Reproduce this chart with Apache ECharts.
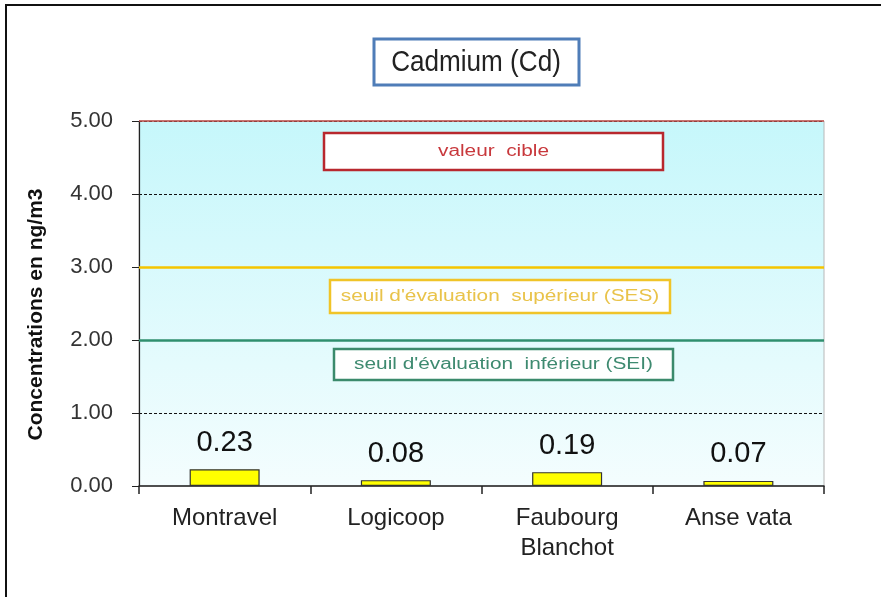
<!DOCTYPE html>
<html>
<head>
<meta charset="utf-8">
<script src="https://cdn.jsdelivr.net/npm/echarts@6/dist/echarts.min.js"></script>
<style>
  html, body { margin: 0; padding: 0; background: #fff; }
  #main { width: 881px; height: 597px; }
</style>
</head>
<body>
<div id="main"></div>
<script>
// données
const sites = ['Montravel', 'Logicoop', 'Faubourg\nBlanchot', 'Anse vata'];
const cadmium = [0.23, 0.08, 0.19, 0.07];
const valeurCible = 5;
const seuilSup = 3;
const seuilInf = 2;

const chart = echarts.init(document.getElementById('main'));

// petit helper pour les cadres de texte (annotations)
function boite(x, y, w, h, texte, trait, couleur) {
  return {
    type: 'group', z: 100,
    children: [
      { type: 'rect', shape: { x: x, y: y, width: w, height: h },
        style: { fill: '#fff', stroke: trait, lineWidth: 2.5 } },
      { type: 'text', x: x + w / 2, y: y + h / 2, scaleX: 1.3,
        style: { text: texte, fill: couleur, font: '16px "Liberation Sans"',
          textAlign: 'center', textVerticalAlign: 'middle' } }
    ]
  };
}

const option = {
  backgroundColor: '#fff',
  grid: {
    left: 139, right: 57, top: 121, bottom: 111,
    show: true, borderColor: '#b8b8b8', borderWidth: 1,
    backgroundColor: new echarts.graphic.LinearGradient(0, 0, 0, 1, [
      { offset: 0, color: '#c6f7fb' },
      { offset: 1, color: '#f4fdfe' }
    ])
  },
  xAxis: {
    type: 'category',
    data: sites,
    axisLine: { lineStyle: { color: '#222', width: 1.5 } },
    axisTick: { show: true, length: 8, lineStyle: { color: '#222', width: 1.5 } },
    axisLabel: { color: '#222', fontSize: 24, fontFamily: 'Liberation Sans', margin: 17, lineHeight: 30 }
  },
  yAxis: {
    type: 'value',
    min: 0, max: 5, interval: 1,
    name: 'Concentrations en ng/m3',
    nameLocation: 'middle',
    nameGap: 92,
    nameTextStyle: { color: '#111', fontSize: 21, fontWeight: 'bold', fontFamily: 'Liberation Sans', padding: [0, 22, 0, 0] },
    axisLine: { show: true, lineStyle: { color: '#222', width: 1.2 } },
    axisTick: { show: true, length: 7, lineStyle: { color: '#222' } },
    axisLabel: {
      color: '#333', fontSize: 22, fontFamily: 'Liberation Sans', margin: 26,
      formatter: v => v.toFixed(2)
    },
    splitLine: { show: true, showMinLine: false, lineStyle: { color: '#111', type: [3, 2], width: 1 } }
  },
  series: [{
    type: 'bar',
    data: cadmium,
    barWidth: 70,
    itemStyle: { color: '#ffff00', borderColor: '#333', borderWidth: 1.2 },
    label: {
      show: true, position: 'top', distance: 12,
      color: '#111', fontSize: 29, fontFamily: 'Liberation Sans',
      formatter: p => p.value.toFixed(2)
    },
    z: 5,
    markLine: {
      silent: true,
      symbol: 'none',
      label: { show: false },
      data: [
        { yAxis: valeurCible, lineStyle: { color: '#c0504d', width: 1.5, type: 'solid' } },
        { yAxis: seuilSup, lineStyle: { color: '#f5c400', width: 2.5, type: 'solid' } },
        { yAxis: seuilInf, lineStyle: { color: '#2f8f6e', width: 2.5, type: 'solid' } }
      ]
    }
  }],
  graphic: [
    { type: 'rect', shape: { x: 6, y: 5, width: 900, height: 700 },
      style: { fill: 'none', stroke: '#111', lineWidth: 2 }, z: 100, silent: true },
    { type: 'rect', shape: { x: 374, y: 39, width: 205, height: 46 },
      style: { fill: '#fff', stroke: '#4f7db8', lineWidth: 3 }, z: 100 },
    { type: 'text', x: 476, y: 63, z: 101, scaleX: 0.9,
      style: { text: 'Cadmium (Cd)', fill: '#222', font: '29px "Liberation Sans Narrow", "Liberation Sans", sans-serif',
        textAlign: 'center', textVerticalAlign: 'middle' } },
    boite(324, 133, 339, 37, 'valeur  cible', '#b8282e', '#c8383c'),
    boite(330, 280, 340, 33, "seuil d'évaluation  supérieur (SES)", '#f0c428', '#e9c34a'),
    boite(334, 349, 339, 31, "seuil d'évaluation  inférieur (SEI)", '#3b8a6c', '#3e8a70')
  ]
};

chart.setOption(option);
</script>
</body>
</html>
